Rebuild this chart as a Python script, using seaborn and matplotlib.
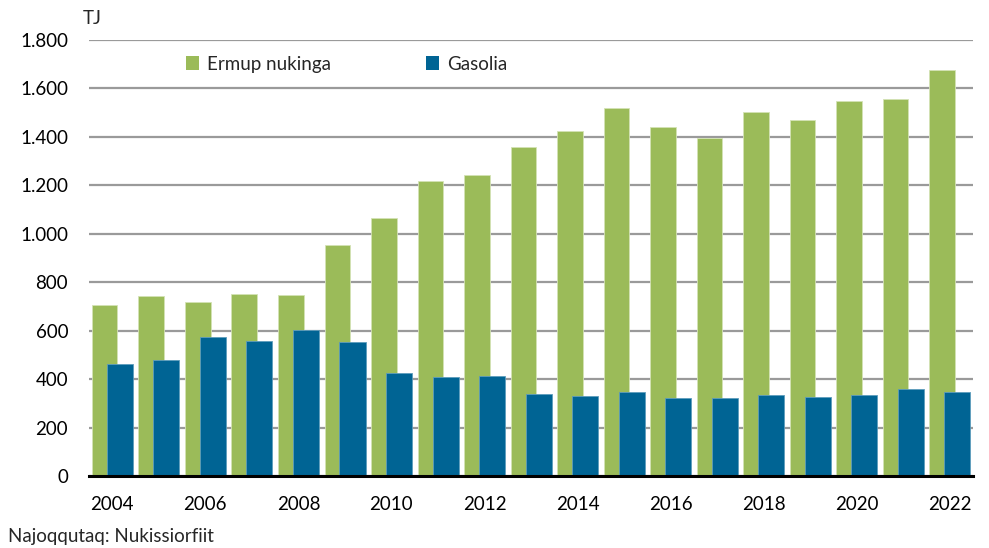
import numpy as np
import pandas as pd
import matplotlib
matplotlib.use("Agg")
import matplotlib.pyplot as plt
import seaborn as sns
from matplotlib.patches import Patch

years = list(range(2004, 2023))
ermup = [705, 744, 718, 750, 747, 954, 1066, 1217, 1242, 1357, 1426, 1521,
         1441, 1397, 1501, 1470, 1548, 1556, 1678]
gasolia = [465, 478, 574, 556, 603, 552, 426, 409, 412, 341, 330, 348,
           321, 321, 336, 325, 337, 359, 348]
series_names = ["Ermup nukinga", "Gasolia"]
colors = ["#9BBB59", "#006494"]
yticks = [0, 200, 400, 600, 800, 1000, 1200, 1400, 1600, 1800]
ytick_labels = ["0", "200", "400", "600", "800", "1.000", "1.200", "1.400", "1.600", "1.800"]

sns.set_theme(style="white")
plt.rcParams["font.family"] = ["Lato", "DejaVu Sans"]

fig = plt.figure(figsize=(9.89, 5.48), dpi=100)
ax = fig.add_axes([0.09, 0.131, 0.8938, 0.796])

df_g = pd.DataFrame({"year": [str(y) for y in years], "val": ermup})
df_b = pd.DataFrame({"year": [str(y) for y in years], "val": gasolia})

offset = 0.163
sns.barplot(data=df_g, x="year", y="val", color=colors[0], width=0.55,
            saturation=1, ax=ax, edgecolor="#D4E3B5", linewidth=0.6, zorder=2)
n_g = len(ax.patches)
for p in ax.patches:
    p.set_x(p.get_x() - offset)
sns.barplot(data=df_b, x="year", y="val", color=colors[1], width=0.56,
            saturation=1, ax=ax, edgecolor="#5E9DBD", linewidth=0.6, zorder=3)
for p in ax.patches[n_g:]:
    p.set_x(p.get_x() + offset)

ax.set_xlim(-0.5, len(years) - 0.5)
ax.set_ylim(0, 1800)
ax.set_yticks(yticks)
ax.set_yticklabels(ytick_labels)
ax.yaxis.grid(True, color="#9A9A9A", linewidth=1.6)
ax.set_axisbelow(True)
ax.set_xticks(range(0, len(years), 2))
ax.set_xticklabels([str(y) for y in years[::2]])
ax.tick_params(axis="x", length=0, pad=14, labelsize=13.5, colors="black")
ax.tick_params(axis="y", length=0, pad=15, labelsize=13.5, colors="black")
ax.set_xlabel("")
ax.set_ylabel("")
for s in ["top", "right", "left"]:
    ax.spines[s].set_visible(False)
ax.spines["bottom"].set_color("black")
ax.spines["bottom"].set_linewidth(2.2)
ax.spines["bottom"].set_zorder(5)

handles = [Patch(facecolor=colors[0], edgecolor="none"),
           Patch(facecolor=colors[1], edgecolor="none")]
leg = fig.legend(handles, series_names, loc="center left",
                 bbox_to_anchor=(0.171, 0.883), ncol=2, frameon=False,
                 fontsize=13.5, handlelength=0.7, handleheight=0.7,
                 handletextpad=0.4, columnspacing=5.1)

fig.text(0.084, 0.967, "TJ", fontsize=13.5, ha="left", va="center")
fig.text(0.008, 0.021, "Najoqqutaq: Nukissiorfiit", fontsize=13.5, ha="left", va="center")

fig.savefig("out.png", dpi=100)
